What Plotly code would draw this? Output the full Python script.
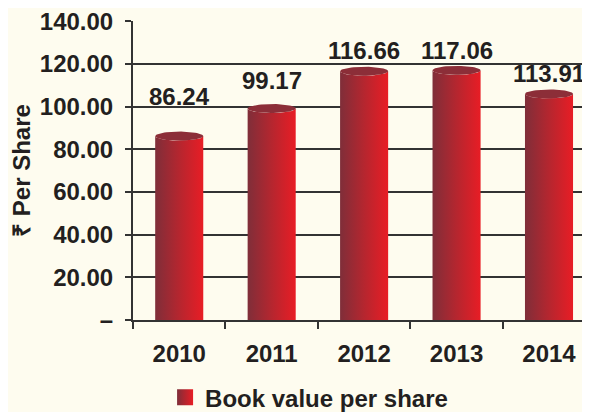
import numpy as np
import plotly.graph_objects as go

# ---- data ----
years = ["2010", "2011", "2012", "2013", "2014"]
bar_values = [86.24, 99.17, 116.66, 117.06, 106.0]   # bar heights as drawn
value_labels = ["86.24", "99.17", "116.66", "117.06", "113.91"]
y_ticks = [0, 20, 40, 60, 80, 100, 120, 140]
y_ticktext = ["–", "20.00", "40.00", "60.00", "80.00", "100.00", "120.00", "140.00"]
series_name = "Book value per share"

# ---- style ----
FONT = "Liberation Sans, Arial, Helvetica, sans-serif"
TXT = "#231f20"
BG = "#fefcef"
HALF_W = 0.26          # half bar width in category units
ELL_H = 2.1            # half-height of top ellipse in value units
label_shift = [40, 28, 21, 20, 20]   # px above bar top
DARK, MID, BRIGHT = "#7f2e39", "#b5262f", "#e81d25"

fig = go.Figure()

t = np.linspace(0, np.pi, 40)
for i, v in enumerate(bar_values):
    xs = [i - HALF_W, i - HALF_W]
    ys = [0, v]
    xs += list(i - HALF_W * np.cos(t))
    ys += list(v - ELL_H * np.sin(t))
    xs += [i + HALF_W, i - HALF_W]
    ys += [0, 0]
    fig.add_trace(go.Scatter(
        x=xs, y=ys, mode="lines", fill="toself",
        line=dict(width=0, color=MID),
        fillgradient=dict(type="horizontal",
                          colorscale=[[0, DARK], [0.5, MID], [1, BRIGHT]]),
        showlegend=False, hoverinfo="skip",
    ))
    tt = np.linspace(0, 2 * np.pi, 60)
    fig.add_trace(go.Scatter(
        x=list(i + HALF_W * np.cos(tt)), y=list(v + ELL_H * np.sin(tt)),
        mode="lines", fill="toself", line=dict(width=0, color="#8c2e38"),
        fillcolor="#8c2e38", showlegend=False, hoverinfo="skip",
    ))
    fig.add_annotation(x=i, y=v, text=value_labels[i], showarrow=False,
                       yshift=label_shift[i], yanchor="middle",
                       font=dict(family=FONT, size=24, color=TXT, weight=700))

# legend entry
fig.add_trace(go.Scatter(
    x=[None], y=[None], mode="markers", name=series_name,
    marker=dict(symbol="square", size=18, color=DARK, line=dict(width=0),
                gradient=dict(type="horizontal", color=BRIGHT)),
))

fig.update_layout(
    width=590, height=412,
    margin=dict(l=125, r=0, t=13, b=100, autoexpand=False),
    paper_bgcolor=BG, plot_bgcolor=BG,
    font=dict(family=FONT, color=TXT, weight=700),
    showlegend=True,
    legend=dict(orientation="h", x=0.069, xanchor="left", y=-0.26, yanchor="middle",
                font=dict(family=FONT, size=24, color=TXT, weight=700),
                bgcolor="rgba(0,0,0,0)", itemwidth=30),
    xaxis=dict(
        range=[-0.5, 4.53], tickvals=list(range(len(years))), ticktext=years,
        ticks="", showgrid=False, zeroline=False, automargin=False,
        showline=True, linecolor="#333333", linewidth=2,
        tickfont=dict(family=FONT, size=24, color=TXT, weight=700),
        ticklabelstandoff=11, ticklabeloverflow="allow",
        minor=dict(tickvals=[-0.5, 0.5, 1.5, 2.5, 3.5, 4.5], ticks="outside",
                   ticklen=7, tickwidth=2, tickcolor="#333333", showgrid=False),
        fixedrange=True,
    ),
    yaxis=dict(
        range=[0, 140.2], tickvals=y_ticks, ticktext=y_ticktext, automargin=False,
        ticks="outside", ticklen=6, tickwidth=2, tickcolor="#333333",
        showgrid=True, gridcolor="#333333", gridwidth=2,
        zeroline=False, showline=True, linecolor="#333333", linewidth=2,
        tickfont=dict(family=FONT, size=24, color=TXT, weight=700),
        ticklabelstandoff=7, ticklabeloverflow="allow",
        title=dict(text="₹ Per Share", standoff=7,
                   font=dict(family=FONT, size=24, color=TXT, weight=700)),
        fixedrange=True,
    ),
)

fig.write_html("out.html")
